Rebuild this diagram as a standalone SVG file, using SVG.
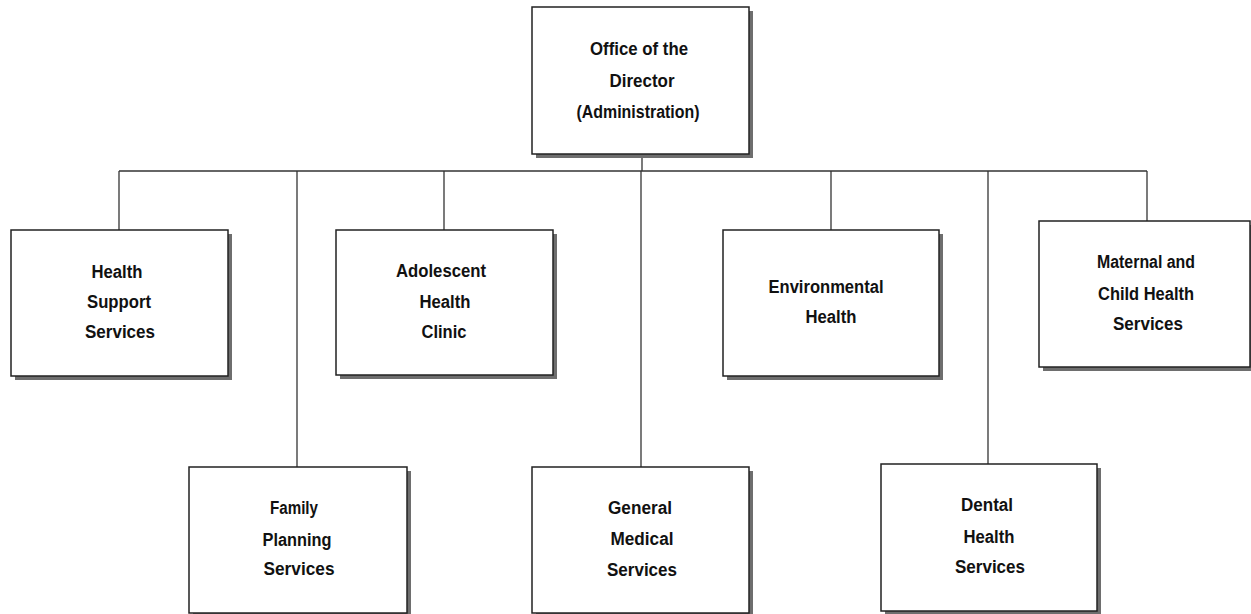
<svg xmlns="http://www.w3.org/2000/svg" width="1251" height="614" viewBox="0 0 1251 614">
<style>
.box{fill:#ffffff;stroke:#222222;stroke-width:1.5}
.shadow{fill:#6e6e6e}
.lbl{font-family:"Liberation Sans",Arial,sans-serif;font-weight:bold;font-size:18px;fill:#111111;text-anchor:middle}
.conn{stroke:#333333;stroke-width:1.3;fill:none}
</style>
<rect width="1251" height="614" fill="#ffffff"/>
<g id="connectors">
<line class="conn" x1="642" y1="154" x2="642" y2="171"/>
<line class="conn" x1="119" y1="171" x2="1147" y2="171"/>
<line class="conn" x1="119" y1="171" x2="119" y2="230"/>
<line class="conn" x1="297" y1="171" x2="297" y2="467"/>
<line class="conn" x1="444" y1="171" x2="444" y2="230"/>
<line class="conn" x1="641" y1="171" x2="641" y2="467"/>
<line class="conn" x1="831" y1="171" x2="831" y2="230"/>
<line class="conn" x1="988" y1="171" x2="988" y2="464"/>
<line class="conn" x1="1147" y1="171" x2="1147" y2="221"/>
</g>
<g id="director">
<rect class="shadow" x="536" y="11" width="217" height="147"/>
<rect class="box" x="532" y="7" width="217" height="147"/>
<text class="lbl" x="639" y="55" textLength="98" lengthAdjust="spacingAndGlyphs">Office of the</text>
<text class="lbl" x="642" y="87" textLength="65" lengthAdjust="spacingAndGlyphs">Director</text>
<text class="lbl" x="638" y="118" textLength="123" lengthAdjust="spacingAndGlyphs">(Administration)</text>
</g>
<g id="health-support">
<rect class="shadow" x="15" y="234" width="217" height="146"/>
<rect class="box" x="11" y="230" width="217" height="146"/>
<text class="lbl" x="117" y="278" textLength="51" lengthAdjust="spacingAndGlyphs">Health</text>
<text class="lbl" x="119" y="308" textLength="64" lengthAdjust="spacingAndGlyphs">Support</text>
<text class="lbl" x="120" y="338" textLength="70" lengthAdjust="spacingAndGlyphs">Services</text>
</g>
<g id="adolescent">
<rect class="shadow" x="340" y="234" width="217" height="145"/>
<rect class="box" x="336" y="230" width="217" height="145"/>
<text class="lbl" x="441" y="277" textLength="90" lengthAdjust="spacingAndGlyphs">Adolescent</text>
<text class="lbl" x="445" y="308" textLength="51" lengthAdjust="spacingAndGlyphs">Health</text>
<text class="lbl" x="444" y="338" textLength="45" lengthAdjust="spacingAndGlyphs">Clinic</text>
</g>
<g id="environmental">
<rect class="shadow" x="727" y="234" width="216" height="146"/>
<rect class="box" x="723" y="230" width="216" height="146"/>
<text class="lbl" x="826" y="293" textLength="115" lengthAdjust="spacingAndGlyphs">Environmental</text>
<text class="lbl" x="831" y="323" textLength="51" lengthAdjust="spacingAndGlyphs">Health</text>
</g>
<g id="maternal">
<rect class="shadow" x="1043" y="225" width="211" height="146"/>
<rect class="box" x="1039" y="221" width="211" height="146"/>
<text class="lbl" x="1146" y="268" textLength="98" lengthAdjust="spacingAndGlyphs">Maternal and</text>
<text class="lbl" x="1146" y="300" textLength="96" lengthAdjust="spacingAndGlyphs">Child Health</text>
<text class="lbl" x="1148" y="330" textLength="70" lengthAdjust="spacingAndGlyphs">Services</text>
</g>
<g id="family-planning">
<rect class="shadow" x="193" y="471" width="218" height="146"/>
<rect class="box" x="189" y="467" width="218" height="146"/>
<text class="lbl" x="294" y="514" textLength="48" lengthAdjust="spacingAndGlyphs">Family</text>
<text class="lbl" x="297" y="546" textLength="69" lengthAdjust="spacingAndGlyphs">Planning</text>
<text class="lbl" x="299" y="575" textLength="71" lengthAdjust="spacingAndGlyphs">Services</text>
</g>
<g id="general-medical">
<rect class="shadow" x="536" y="471" width="217" height="146"/>
<rect class="box" x="532" y="467" width="217" height="146"/>
<text class="lbl" x="640" y="514" textLength="64" lengthAdjust="spacingAndGlyphs">General</text>
<text class="lbl" x="642" y="545" textLength="63" lengthAdjust="spacingAndGlyphs">Medical</text>
<text class="lbl" x="642" y="576" textLength="70" lengthAdjust="spacingAndGlyphs">Services</text>
</g>
<g id="dental">
<rect class="shadow" x="885" y="468" width="216" height="147"/>
<rect class="box" x="881" y="464" width="216" height="147"/>
<text class="lbl" x="987" y="511" textLength="52" lengthAdjust="spacingAndGlyphs">Dental</text>
<text class="lbl" x="989" y="543" textLength="51" lengthAdjust="spacingAndGlyphs">Health</text>
<text class="lbl" x="990" y="573" textLength="70" lengthAdjust="spacingAndGlyphs">Services</text>
</g>
</svg>
